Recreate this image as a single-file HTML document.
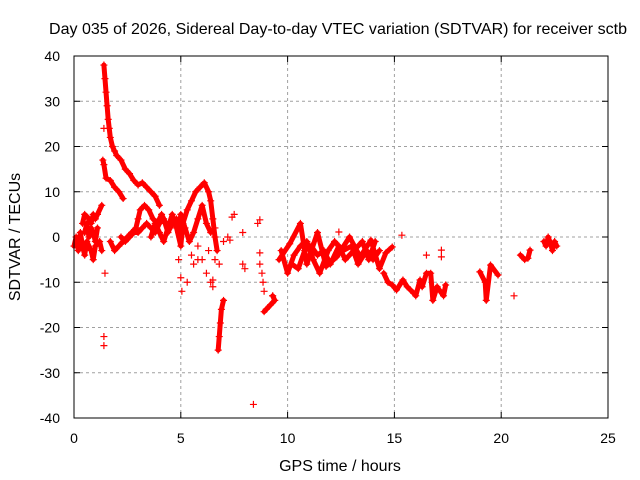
<!DOCTYPE html>
<html><head><meta charset="utf-8"><style>
body{margin:0;background:#fff}
svg{display:block;font-family:"Liberation Sans",sans-serif}
</style></head><body>
<svg id="c" width="640" height="480" xmlns="http://www.w3.org/2000/svg">
<text x="338" y="34" font-size="16" text-anchor="middle" textLength="578" lengthAdjust="spacingAndGlyphs">Day 035 of 2026, Sidereal Day-to-day VTEC variation (SDTVAR) for receiver sctb</text>
<text x="340" y="471" font-size="16" text-anchor="middle">GPS time / hours</text>
<text transform="translate(20,237) rotate(-90)" font-size="16" text-anchor="middle">SDTVAR / TECUs</text>
<g id="grid"></g><g id="ticks"></g><g id="marks"></g>
<rect x="74" y="56" width="534" height="362" fill="none" stroke="#000" stroke-width="1"/>
</svg>
<script>
const xTicks=[0,5,10,15,20,25];
const yTicks=[-40,-30,-20,-10,0,10,20,30,40];
// dense tracks [hour, TECU]
const trackA=[[1.4,38],[1.45,35],[1.5,32],[1.55,29],[1.6,26],[1.65,24],[1.7,22],[1.8,20],[1.9,19],[2.0,18],[2.2,17],[2.4,15],[2.6,14],[2.8,12.5],[3.0,11.5],[3.2,12],[3.4,11],[3.6,10],[3.8,9],[4.0,7]];
const trackB=[[1.35,17],[1.4,16],[1.5,13],[1.7,12.5],[1.9,11],[2.1,10],[2.3,8.5]];
const trackC=[[0,-2],[0.1,0],[0.2,-3],[0.3,1],[0.4,-2],[0.5,-4],[0.6,-1],[0.8,-3],[0.9,-5],[1.0,-2],[1.2,-1],[1.3,-3]];
const trackD=[[0.4,3],[0.5,5],[0.7,4],[0.8,3],[0.9,5],[1.0,4],[1.1,5],[1.3,7]];
const trackD2=[[0.5,1],[0.6,3],[0.7,0],[0.8,2],[0.9,1],[1.0,-1],[1.1,2]];
const trackE=[[1.7,-1],[1.9,-3],[2.1,-2],[2.3,-1],[2.5,0],[2.7,1],[2.9,2],[3.0,4],[3.1,6],[3.3,7],[3.5,6],[3.7,4],[3.9,3],[4.1,5],[4.3,3],[4.5,2]];
const trackE2=[[2.2,0],[2.4,-1],[2.6,0],[2.8,1],[3.0,1],[3.2,2],[3.4,3],[3.6,2],[3.8,1],[4.0,3],[4.2,4],[4.4,1],[4.6,3]];
const trackF=[[3.6,0],[3.8,3],[4.0,1],[4.2,-1],[4.4,2],[4.6,5],[4.8,2],[5.0,-2],[5.1,3],[5.3,6],[5.5,8],[5.7,10],[5.9,11],[6.1,12],[6.3,10],[6.4,8],[6.5,4],[6.6,0],[6.7,-3]];
const trackF2=[[4.8,4],[4.9,1],[5.0,5],[5.2,2],[5.4,-1],[5.6,1],[5.8,4],[6.0,7],[6.2,3],[6.4,1]];
const trackG=[[6.75,-25],[6.8,-22],[6.85,-19],[6.9,-16],[7.0,-14]];
const trackH=[[8.9,-16.5],[9.0,-16],[9.2,-15],[9.4,-14],[9.3,-13]];
const trackI=[[9.6,-5],[10.1,-1.5],[10.6,3],[10.9,-6],[11.4,1],[11.8,-6.5],[12.3,-4.4],[12.9,0],[13.4,-4.4],[13.9,-0.7],[14.3,-7],[14.6,-3.5],[14.9,-2.2]];
const trackJ=[[9.7,-3],[10.0,-8],[10.3,-4],[10.6,-2],[10.9,-1],[11.2,-5],[11.5,-8],[11.9,-3],[12.2,-1],[12.6,-3],[13.0,-2],[13.3,-6],[13.7,-3],[14.0,-5],[14.3,-3]];
const trackJ2=[[10.2,-6],[10.5,-7],[10.8,-3],[11.1,-2],[11.4,-4],[11.7,-3],[12.0,-6],[12.4,-2],[12.7,-5],[13.1,-3],[13.5,-1],[13.8,-5],[14.1,-1]];
const trackK=[[14.5,-8],[14.7,-10],[14.9,-10.6],[15.1,-11.7],[15.4,-9.5],[15.6,-11],[15.9,-12.4],[16.0,-13],[16.2,-9.5],[16.3,-11],[16.5,-8],[16.7,-8],[16.8,-14],[17.0,-11],[17.1,-11.7],[17.3,-13],[17.4,-10.6]];
const trackL=[[19.0,-7.7],[19.25,-10],[19.3,-14],[19.5,-6.2],[19.85,-8.4]];
const trackM=[[20.9,-4],[21.1,-5],[21.25,-4.7],[21.35,-2.9]];
const trackN=[[22.0,-1],[22.1,-2],[22.2,0],[22.3,-1.3],[22.4,-3],[22.5,-1],[22.6,-2]];
// sparse points
const scatter=[[1.4,-22],[1.4,-24],[1.4,24],[1.45,-8],[4.9,-5],[5.0,-9],[5.05,-12],[5.3,-10],[5.5,-4],[5.6,-6],[5.8,-2],[5.8,-5],[6.0,-5],[6.2,-8],[6.4,-10],[6.5,-11],[6.5,-9.5],[6.3,-3],[6.6,-5],[6.6,2],[6.8,-6],[7.0,-1],[7.3,-0.7],[7.2,0],[7.4,4.4],[7.5,5],[7.9,1],[7.9,-6],[8.0,-7],[8.4,-37],[8.7,3.8],[8.6,3],[8.7,-3.5],[8.7,-6],[8.8,-8],[8.85,-10],[8.9,-12],[9.3,-13],[12.4,1.1],[15.35,0.4],[16.5,-4],[17.2,-2.9],[17.2,-4.4],[20.6,-13]];
const tracks=[trackA,trackB,trackC,trackD,trackD2,trackE,trackE2,trackF,trackF2,trackG,trackH,trackI,trackJ,trackJ2,trackK,trackL,trackM,trackN];
const X0=74,X1=608,Y0=418,Y1=56;
const sx=h=>X0+(h-0)/25*(X1-X0);
const sy=v=>Y0-(v+40)/80*(Y0-Y1);
const NS="http://www.w3.org/2000/svg";
function mk(t,a,p){const e=document.createElementNS(NS,t);for(const k in a)e.setAttribute(k,a[k]);p.appendChild(e);return e;}
const grid=document.getElementById('grid'),ticks=document.getElementById('ticks'),marks=document.getElementById('marks');
xTicks.forEach(t=>{const x=sx(t);
 if(t>0&&t<25){const g=mk('line',{x1:x,y1:Y1,x2:x,y2:Y0,stroke:'#a0a0a0','stroke-dasharray':'3,3'},grid);
 
 }
 mk('line',{x1:x,y1:Y0,x2:x,y2:Y0-6,stroke:'#000'},ticks);
 mk('line',{x1:x,y1:Y1,x2:x,y2:Y1+6,stroke:'#000'},ticks);
 const l=mk('text',{x:x,y:443,'font-size':14,'text-anchor':'middle'},ticks);l.textContent=t;
 
 });
yTicks.forEach(t=>{const y=sy(t);
 if(t>-40&&t<40){const g=mk('line',{x1:X0,y1:y,x2:X1,y2:y,stroke:'#a0a0a0','stroke-dasharray':'3,3'},grid);
 
 }
 mk('line',{x1:X0,y1:y,x2:X0+6,y2:y,stroke:'#000'},ticks);
 mk('line',{x1:X1,y1:y,x2:X1-6,y2:y,stroke:'#000'},ticks);
 const l=mk('text',{x:60,y:y+5,'font-size':14,'text-anchor':'end'},ticks);l.textContent=t;
 
 });
function plus(h,v){const x=sx(h),y=sy(v);
 const p=mk('path',{d:`M${x-3.5},${y}h7M${x},${y-3.5}v7`,stroke:'#f00','stroke-width':1.2,fill:'none'},marks);
 
 }
tracks.forEach(tr=>{
 const pl=mk('polyline',{points:tr.map(p=>sx(p[0])+','+sy(p[1])).join(' '),fill:'none',stroke:'#f00','stroke-width':5,'stroke-linejoin':'round','stroke-linecap':'round'},marks);
 
 
 tr.forEach(p=>plus(p[0],p[1]));});
scatter.forEach(p=>plus(p[0],p[1]));
</script>
</body></html>
